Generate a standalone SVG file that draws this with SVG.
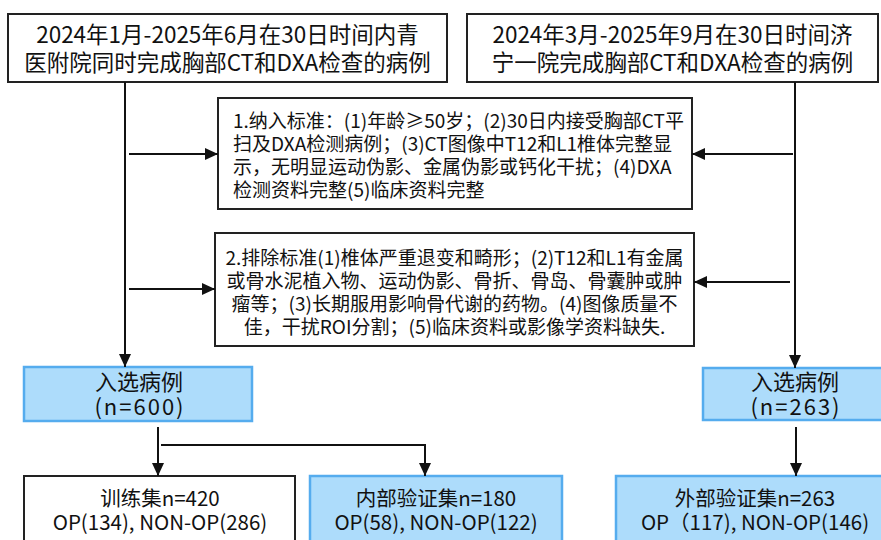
<svg xmlns="http://www.w3.org/2000/svg" width="881" height="540" viewBox="0 0 881 540">
<style>
text{font-family:"Noto Sans CJK SC","Noto Sans",sans-serif;fill:#111}
.box{fill:#fff;stroke:#222;stroke-width:2}
.blue{fill:#addcfb;stroke:#55acee;stroke-width:2.5}
.t22{font-size:22.5px;text-anchor:middle}
.t19{font-size:19px}
.c{text-anchor:middle}
.t20{font-size:20.5px;text-anchor:middle}
.sel{font-size:22px;text-anchor:middle}
.n{letter-spacing:2px}
.ln{fill:none;stroke:#111;stroke-width:2;marker-end:url(#ah)}
</style>
<defs>
<marker id="ah" markerUnits="userSpaceOnUse" markerWidth="14" markerHeight="12" refX="13" refY="6" orient="auto">
<polygon points="0,0 13,6 0,12" fill="#111"/>
</marker>
</defs>
<g id="src1">
<rect class="box" x="8" y="14" width="439" height="68"/>
<text class="t22" x="227.5" y="43">2024年1月-2025年6月在30日时间内青</text>
<text class="t22" x="227.5" y="71">医附院同时完成胸部CT和DXA检查的病例</text>
</g>
<g id="src2">
<rect class="box" x="467" y="14" width="411" height="68"/>
<text class="t22" x="672.5" y="43">2024年3月-2025年9月在30日时间济</text>
<text class="t22" x="672.5" y="71">宁一院完成胸部CT和DXA检查的病例</text>
</g>
<g id="inclusion">
<rect class="box" x="218" y="98" width="474" height="111"/>
<text class="t19" x="233" y="127.5">1.纳入标准：(1)年龄≥50岁；(2)30日内接受胸部CT平</text>
<text class="t19" x="233" y="150.8">扫及DXA检测病例；(3)CT图像中T12和L1椎体完整显</text>
<text class="t19" x="233" y="174.1">示，无明显运动伪影、金属伪影或钙化干扰；(4)DXA</text>
<text class="t19" x="233" y="197.4">检测资料完整(5)临床资料完整</text>
</g>
<g id="exclusion">
<rect class="box" x="215" y="233" width="479" height="113"/>
<text class="t19 c" x="454.5" y="265">2.排除标准(1)椎体严重退变和畸形；(2)T12和L1有金属</text>
<text class="t19 c" x="454.5" y="288">或骨水泥植入物、运动伪影、骨折、骨岛、骨囊肿或肿</text>
<text class="t19 c" x="454.5" y="311">瘤等；(3)长期服用影响骨代谢的药物。(4)图像质量不</text>
<text class="t19 c" x="454.5" y="334">佳，干扰ROI分割；(5)临床资料或影像学资料缺失.</text>
</g>
<g id="sel1">
<rect class="blue" x="24" y="367" width="228" height="54"/>
<text class="sel" x="139" y="390">入选病例</text>
<text class="sel n" x="140" y="415">(n=600)</text>
</g>
<g id="sel2">
<rect class="blue" x="703" y="368" width="190" height="52"/>
<text class="sel" x="795" y="390">入选病例</text>
<text class="sel n" x="796" y="415">(n=263)</text>
</g>
<g id="train">
<rect class="box" x="24" y="476" width="271" height="80"/>
<text class="t20" x="160" y="506">训练集n=420</text>
<text class="t20" x="160" y="530">OP(134), NON-OP(286)</text>
</g>
<g id="internal">
<rect class="blue" x="310" y="476" width="252" height="80"/>
<text class="t20" x="436" y="506">内部验证集n=180</text>
<text class="t20" x="436" y="530">OP(58), NON-OP(122)</text>
</g>
<g id="external">
<rect class="blue" x="616" y="476" width="280" height="80"/>
<text class="t20" x="755" y="506">外部验证集n=263</text>
<text class="t20" x="755" y="530">OP（117), NON-OP(146)</text>
</g>
<g id="connectors">
<path class="ln" d="M125,82 V367"/>
<path class="ln" d="M795,82 V368"/>
<path class="ln" d="M129,154 H218"/>
<path class="ln" d="M793,154 H692"/>
<path class="ln" d="M129,289 H215"/>
<path class="ln" d="M790,282 H694"/>
<path class="ln" d="M158,427 V476"/>
<path class="ln" d="M161,445 H425 V476"/>
<path class="ln" d="M796,427 V476"/>
</g>
</svg>
